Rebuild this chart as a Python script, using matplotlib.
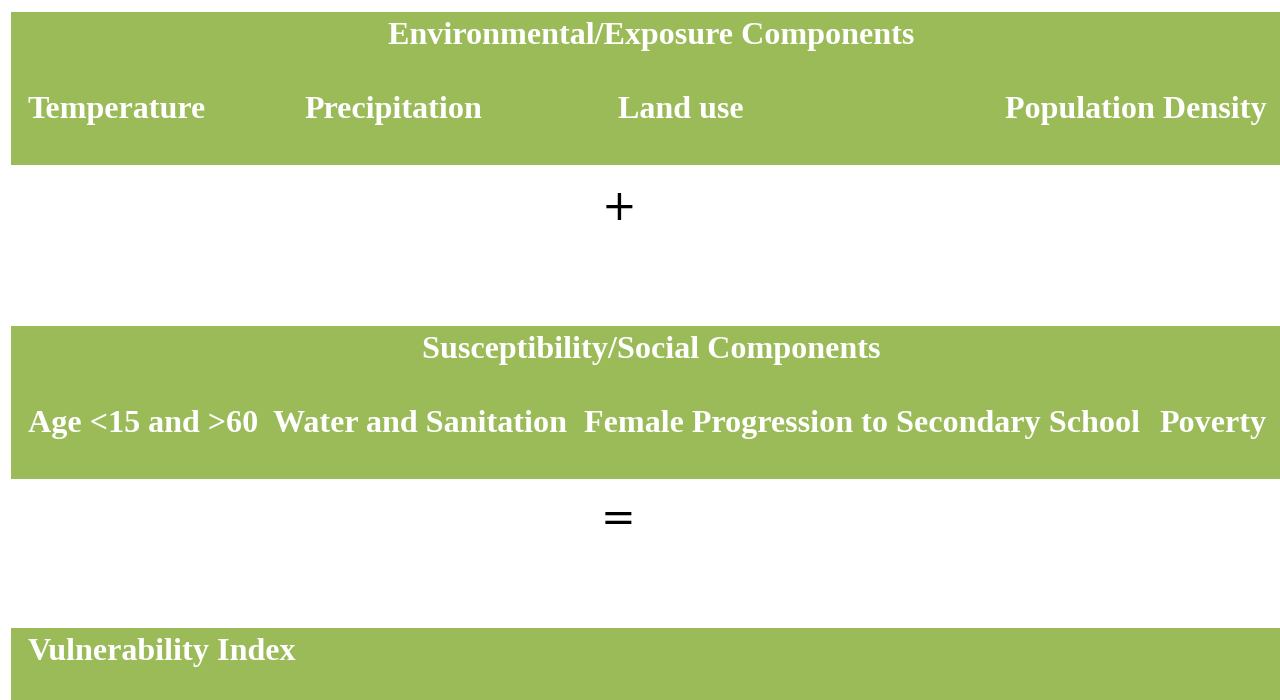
import matplotlib
matplotlib.use("Agg")
import matplotlib.pyplot as plt
from matplotlib.patches import Rectangle

# Content
exposure_title = "Environmental/Exposure Components"
exposure_items = ["Temperature", "Precipitation", "Land use", "Population Density"]
social_title = "Susceptibility/Social Components"
social_items = ["Age <15 and >60", "Water and Sanitation",
                "Female Progression to Secondary School", "Poverty"]
result_title = "Vulnerability Index"
operators = ["+", "="]

GREEN = "#9BBB59"
W, H = 1280, 700
fig = plt.figure(figsize=(W / 100, H / 100), dpi=100)
ax = fig.add_axes([0, 0, 1, 1])
ax.set_xlim(0, W)
ax.set_ylim(H, 0)
ax.axis("off")

font = dict(family="Liberation Serif", weight="bold", color="white", fontsize=23.1)

# boxes
for (y0, y1) in [(12, 165), (326, 479), (628, 705)]:
    ax.add_patch(Rectangle((11, y0), W - 11, y1 - y0, facecolor=GREEN, edgecolor="none"))

# titles
ax.text(651, 44, exposure_title, ha="center", va="baseline", **font)
ax.text(651, 358, social_title, ha="center", va="baseline", **font)
ax.text(28, 660, result_title, ha="left", va="baseline", **font)

# items row 1
xs1 = [28, 304, 618, 1267]
has1 = ["left", "left", "left", "right"]
for t, x, ha in zip(exposure_items, xs1, has1):
    ax.text(x, 118, t, ha=ha, va="baseline", **font)

xs2 = [28, 273, 584, 1267]
has2 = ["left", "left", "left", "right"]
for t, x, ha in zip(social_items, xs2, has2):
    ax.text(x, 432, t, ha=ha, va="baseline", **font)

# operators
ax.text(619.5, 204, operators[0], ha="center", va="center_baseline",
        family="DejaVu Sans", fontsize=30, color="black")
ax.text(618, 515, operators[1], ha="center", va="center_baseline",
        family="DejaVu Sans", fontsize=30, color="black")

fig.savefig("out.png", dpi=100)
